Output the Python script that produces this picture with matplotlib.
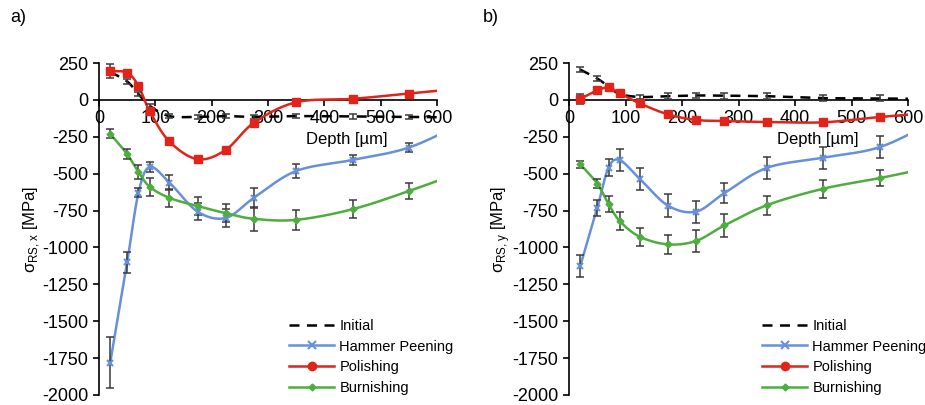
import matplotlib
matplotlib.use("Agg")
import matplotlib.pyplot as plt
from matplotlib.lines import Line2D
import numpy as np

plt.rcParams['font.family'] = ['Liberation Sans', 'DejaVu Sans']
plt.rcParams['mathtext.fontset'] = 'custom'
plt.rcParams['mathtext.rm'] = 'Liberation Sans'
plt.rcParams['axes.unicode_minus'] = False

# depth points [um]; last point lies beyond the visible range (curve runs to the edge)
depth = [20, 50, 70, 90, 125, 175, 225, 275, 350, 450, 550, 650]

# sigma_RS,x (panel a)
init_x = [190, 125, 40, -40, -110, -115, -110, -115, -110, -112, -115, -120]
init_x_err = [15, 15, 15, 15, 15, 15, 15, 15, 15, 15, 15, 15]
hammer_x = [-1780, -1100, -630, -455, -560, -757, -800, -664, -482, -407, -323, -150]
hammer_x_err = [170, 72, 30, 37, 50, 60, 60, 70, 45, 35, 30, 30]
polish_x = [195, 184, 95, -77, -282, -402, -339, -155, -16, 7, 43, 80]
polish_x_err = [45, 15, 10, 10, 10, 10, 10, 10, 10, 10, 10, 10]
burn_x = [-230, -368, -489, -589, -664, -720, -768, -806, -813, -741, -618, -480]
burn_x_err = [30, 35, 50, 60, 60, 60, 60, 80, 70, 60, 55, 55]

# sigma_RS,y (panel b)
init_y = [205, 145, 90, 40, 20, 25, 30, 28, 25, 12, 10, 5]
init_y_err = [15, 15, 15, 15, 15, 20, 20, 20, 20, 20, 20, 20]
hammer_y = [-1125, -732, -459, -409, -534, -716, -757, -632, -461, -391, -320, -140]
hammer_y_err = [75, 55, 60, 75, 75, 75, 75, 70, 75, 75, 75, 75]
polish_y = [7, 64, 84, 45, -23, -98, -136, -143, -150, -152, -116, -85]
polish_y_err = [35, 10, 10, 10, 10, 10, 10, 10, 10, 10, 10, 10]
burn_y = [-436, -568, -705, -822, -927, -979, -956, -851, -714, -602, -530, -450]
burn_y_err = [25, 30, 55, 60, 60, 65, 75, 75, 65, 60, 55, 55]

labels = ['Initial', 'Hammer Peening', 'Polishing', 'Burnishing']
c_blue = '#6690dc'
c_red = '#e2231a'
c_green = '#4cae3c'
c_err = '#3a3a3a'


def smooth(x, y, n=30):
    # Catmull-Rom spline through the points (like Excel smoothed line)
    x = np.asarray(x, float)
    y = np.asarray(y, float)
    px = np.concatenate([[2 * x[0] - x[1]], x, [2 * x[-1] - x[-2]]])
    py = np.concatenate([[2 * y[0] - y[1]], y, [2 * y[-1] - y[-2]]])
    xs, ys = [], []
    t = np.linspace(0, 1, n)
    for i in range(1, len(px) - 2):
        for p, out in ((px, xs), (py, ys)):
            p0, p1, p2, p3 = p[i - 1], p[i], p[i + 1], p[i + 2]
            out.append(0.5 * ((2 * p1) + (-p0 + p2) * t
                              + (2 * p0 - 5 * p1 + 4 * p2 - p3) * t ** 2
                              + (-p0 + 3 * p1 - 3 * p2 + p3) * t ** 3))
    return np.concatenate(xs), np.concatenate(ys)


fig = plt.figure(figsize=(9.25, 4.05), dpi=100)
axes = [fig.add_axes([99 / 925, 10 / 405, 338 / 925, 332 / 405]),
        fig.add_axes([569 / 925, 10 / 405, 339 / 925, 332 / 405])]

panels = [
    (init_x, init_x_err, hammer_x, hammer_x_err, polish_x, polish_x_err, burn_x, burn_x_err,
     r'σ$_{\mathregular{RS,x}}$ [MPa]', 'a)'),
    (init_y, init_y_err, hammer_y, hammer_y_err, polish_y, polish_y_err, burn_y, burn_y_err,
     r'σ$_{\mathregular{RS,y}}$ [MPa]', 'b)'),
]

for k, (ax, pan) in enumerate(zip(axes, panels)):
    ini, inie, ham, hame, pol, pole, bur, bure, ylab, tag = pan

    series = [(ini, inie, 'k', None, '--', 0),
              (ham, hame, c_blue, 'x', '-', 5),
              (pol, pole, c_red, 's', '-', 5.5),
              (bur, bure, c_green, 'D', '-', 3.5)]
    for vals, errs, col, mk, ls, ms in series:
        sx, sy = smooth(depth, vals)
        ax.plot(sx, sy, color=col, ls=ls, lw=1.8,
                dashes=(4, 3) if ls == '--' else (None, None), zorder=3)
        ax.errorbar(depth, vals, yerr=errs, fmt='none', ecolor=c_err,
                    elinewidth=1.1, capsize=3, capthick=1.1, zorder=4)
        if mk:
            ax.plot(depth, vals, ls='none', marker=mk, color=col, ms=ms,
                    mew=1.5 if mk == 'x' else 1, zorder=5)

    ax.set_xlim(0, 600)
    ax.set_ylim(-2000, 250)
    ax.set_xticks(np.arange(0, 601, 100))
    ax.set_yticks(np.arange(-2000, 251, 250))
    ax.spines['top'].set_visible(False)
    ax.spines['right'].set_visible(False)
    ax.spines['bottom'].set_position(('data', 0))
    ax.spines['bottom'].set_zorder(2)
    for s in ('left', 'bottom'):
        ax.spines[s].set_linewidth(1.2)
        ax.spines[s].set_color('black')
    ax.tick_params(axis='both', labelsize=13, width=1.2, length=4, direction='out')
    ax.tick_params(axis='x', pad=3)
    ax.set_ylabel(ylab, fontsize=12)
    ax.yaxis.set_label_coords(-57 / 338, 0.5)
    ax.text(440, -268, 'Depth [µm]', ha='center', va='center', fontsize=12)

    handles = [Line2D([], [], color='k', ls='--', dashes=(4, 3), lw=1.8),
               Line2D([], [], color=c_blue, marker='x', lw=1.8, ms=6, mew=1.5),
               Line2D([], [], color=c_red, marker='o', lw=1.8, ms=6),
               Line2D([], [], color=c_green, marker='D', lw=1.8, ms=3.5)]
    lx = 289 if k == 0 else 762
    ax.legend(handles, labels, loc='upper left', bbox_to_anchor=(lx / 925, 1 - 319 / 405),
              bbox_transform=fig.transFigure, frameon=False, fontsize=10.5,
              handlelength=3.1, handletextpad=0.35, labelspacing=0.45,
              borderpad=0, borderaxespad=0)

    fig.text((10 if k == 0 else 483) / 925, 1 - 18 / 405, tag, fontsize=13,
             ha='left', va='center')

fig.savefig('out.png', dpi=100)
